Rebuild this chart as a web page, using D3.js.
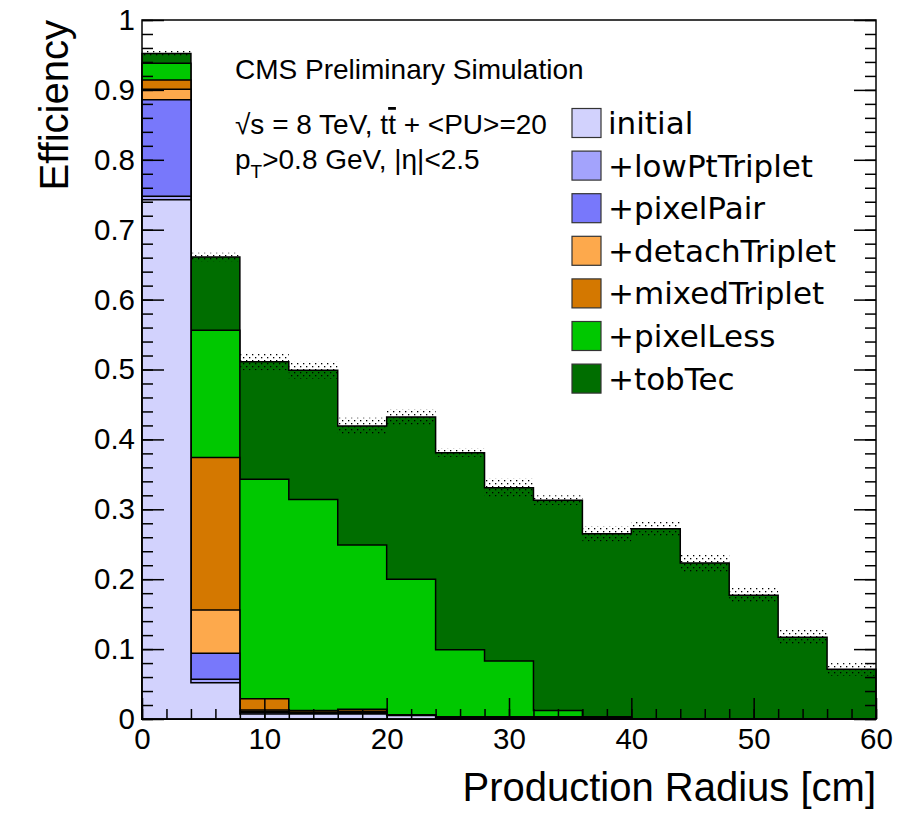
<!DOCTYPE html>
<html>
<head>
<meta charset="utf-8">
<script src="https://cdn.jsdelivr.net/npm/d3@7"></script>
<style>
  body { margin: 0; background: #fff; }
  text { font-family: "Liberation Sans", Arial, sans-serif; }
</style>
</head>
<body>
<script>
    // bin edges of production radius [cm]
    const binEdges = [0, 4, 8, 12, 16, 20, 24, 28, 32, 36, 40, 44, 48, 52, 56, 60];

    const seriesNames = ["initial", "+lowPtTriplet", "+pixelPair", "+detachTriplet", "+mixedTriplet", "+pixelLess", "+tobTec"];
    const seriesColors = ["#d2d2fd", "#a3a3fc", "#7878fb", "#fda94c", "#d47800", "#00c800", "#006e00"];

    // cumulative efficiency after each iteration, per bin
    const initial       = [0.743, 0.052, 0.007, 0.007, 0.007, 0.005, 0.002, 0.002, 0.002, 0.002, 0, 0, 0, 0, 0];
    const lowPtTriplet  = [0.748, 0.057, 0.009, 0.008, 0.008, 0.005, 0.002, 0.002, 0.002, 0.002, 0, 0, 0, 0, 0];
    const pixelPair     = [0.886, 0.094, 0.011, 0.009, 0.009, 0.006, 0.003, 0.003, 0.003, 0.003, 0, 0, 0, 0, 0];
    const detachTriplet = [0.901, 0.156, 0.013, 0.010, 0.011, 0.006, 0.003, 0.003, 0.003, 0.003, 0, 0, 0, 0, 0];
    const mixedTriplet  = [0.914, 0.374, 0.029, 0.012, 0.014, 0.006, 0.003, 0.003, 0.003, 0.003, 0, 0, 0, 0, 0];
    const pixelLess     = [0.938, 0.556, 0.343, 0.314, 0.249, 0.200, 0.099, 0.083, 0.012, 0.003, 0, 0, 0, 0, 0];
    const tobTec        = [0.952, 0.661, 0.511, 0.499, 0.419, 0.432, 0.381, 0.331, 0.313, 0.265, 0.272, 0.223, 0.177, 0.117, 0.071];
    const tobTecErr     = [0.004, 0.006, 0.012, 0.012, 0.012, 0.011, 0.006, 0.013, 0.007, 0.011, 0.010, 0.013, 0.011, 0.011, 0.009];

    const xTicks = [0, 10, 20, 30, 40, 50, 60];
    const yTicks = [0, 0.1, 0.2, 0.3, 0.4, 0.5, 0.6, 0.7, 0.8, 0.9, 1];

    const allSeries = [initial, lowPtTriplet, pixelPair, detachTriplet, mixedTriplet, pixelLess, tobTec];

    const width = 913, height = 813;
    const margin = {left: 142, top: 20, right: 37, bottom: 94};

    const svg = d3.select("body").append("svg")
        .attr("width", width)
        .attr("height", height);

    const x = d3.scaleLinear().domain([0, 60]).range([margin.left, width - margin.right]);
    const y = d3.scaleLinear().domain([0, 1]).range([height - margin.bottom, margin.top]);

    // dotted fill for the error band
    const defs = svg.append("defs");
    const pat = defs.append("pattern")
        .attr("id", "dots")
        .attr("patternUnits", "userSpaceOnUse")
        .attr("width", 6).attr("height", 6);
    pat.append("rect").attr("x", 0).attr("y", 0).attr("width", 1.3).attr("height", 1.3).attr("fill", "#000");
    pat.append("rect").attr("x", 3).attr("y", 3).attr("width", 1.3).attr("height", 1.3).attr("fill", "#000");

    function stepPoints(vals) {
        const pts = [];
        vals.forEach((v, i) => {
            pts.push([binEdges[i], v]);
            pts.push([binEdges[i + 1], v]);
        });
        return pts;
    }

    const area = d3.area()
        .x(d => x(d[0]))
        .y0(y(0))
        .y1(d => y(d[1]));

    const hist = svg.append("g");
    // draw largest first so smaller ones are on top
    for (let s = allSeries.length - 1; s >= 0; s--) {
        hist.append("path")
            .attr("d", area(stepPoints(allSeries[s])))
            .attr("fill", seriesColors[s])
            .attr("stroke", "#000")
            .attr("stroke-width", 1.5)
            .attr("stroke-linejoin", "miter");
    }

    // error band on the total
    svg.append("g")
        .selectAll("rect")
        .data(tobTec)
        .join("rect")
        .attr("x", (d, i) => x(binEdges[i]))
        .attr("width", (d, i) => x(binEdges[i + 1]) - x(binEdges[i]))
        .attr("y", (d, i) => y(d + tobTecErr[i]))
        .attr("height", (d, i) => y(d - tobTecErr[i]) - y(d + tobTecErr[i]))
        .attr("fill", "url(#dots)");

    // axes
    const minorX = d3.range(0, 61, 2);
    const minorY = d3.range(0, 51).map(d => d / 50);

    const bottom = svg.append("g").attr("transform", `translate(0,${y(0)})`);
    bottom.call(d3.axisBottom(x).tickValues(minorX).tickSize(-10).tickFormat(""));
    bottom.call(g => g.append("g").call(d3.axisBottom(x).tickValues(xTicks).tickSize(-21).tickPadding(9).tickFormat(d3.format("d"))));

    const left = svg.append("g").attr("transform", `translate(${x(0)},0)`);
    left.call(d3.axisLeft(y).tickValues(minorY).tickSize(-11).tickFormat(""));
    left.call(g => g.append("g").call(d3.axisLeft(y).tickValues(yTicks).tickSize(-22).tickPadding(7).tickFormat(d3.format("~g"))));

    const right = svg.append("g").attr("transform", `translate(${x(60)},0)`);
    right.call(d3.axisRight(y).tickValues(minorY).tickSize(-11).tickFormat(""));
    right.call(g => g.append("g").call(d3.axisRight(y).tickValues(yTicks).tickSize(-22).tickFormat("")));

    svg.selectAll(".domain").remove();
    svg.selectAll(".tick line").attr("stroke", "#000").attr("stroke-width", 1.5);
    svg.selectAll(".tick text")
        .style("font-family", "Liberation Sans, Arial, sans-serif")
        .style("font-size", "29.5px")
        .attr("fill", "#000");

    // frame
    svg.append("rect")
        .attr("x", x(0)).attr("y", y(1))
        .attr("width", x(60) - x(0)).attr("height", y(0) - y(1))
        .attr("fill", "none").attr("stroke", "#000").attr("stroke-width", 1.5);

    // titles
    svg.append("text")
        .attr("x", x(60)).attr("y", 801)
        .attr("text-anchor", "end")
        .attr("font-size", 40)
        .text("Production Radius [cm]");
    svg.append("text")
        .attr("transform", `translate(68,${y(1)}) rotate(-90)`)
        .attr("text-anchor", "end")
        .attr("font-size", 40)
        .text("Efficiency");

    // labels
    const lab = svg.append("g").attr("font-size", 28).attr("fill", "#000");
    lab.append("text").attr("x", 235).attr("y", 79).text("CMS Preliminary Simulation");
    const l2 = lab.append("text").attr("x", 235).attr("y", 134);
    l2.append("tspan").text("√s = 8 TeV, t");
    l2.append("tspan").style("text-decoration", "overline").text("t");
    l2.append("tspan").text(" + <PU>=20");
    const l3 = lab.append("text").attr("x", 235).attr("y", 169);
    l3.append("tspan").text("p");
    l3.append("tspan").attr("dy", 9).attr("font-size", 19).text("T");
    l3.append("tspan").attr("dy", -9).text(">0.8 GeV, |η|<2.5");

    // legend
    const legend = svg.append("g")
        .selectAll("g")
        .data(seriesNames)
        .join("g")
        .attr("transform", (d, i) => `translate(572,${123 + i * 42.6})`);
    legend.append("rect")
        .attr("x", 0).attr("y", -14.5)
        .attr("width", 29).attr("height", 29)
        .attr("fill", (d, i) => seriesColors[i])
        .attr("stroke", "#333").attr("stroke-width", 1.2);
    legend.append("text")
        .attr("x", 36).attr("y", 11)
        .style("font-family", "'DejaVu Sans', sans-serif")
        .style("font-size", "31px")
        .text(d => d);
</script>
</body>
</html>
